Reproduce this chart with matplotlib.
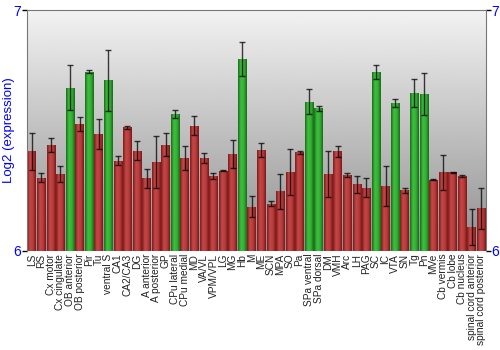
import numpy as np
import matplotlib.pyplot as plt
from matplotlib.colors import LinearSegmentedColormap

plt.rcParams['font.family'] = ['Liberation Sans', 'DejaVu Sans']

# regiony mozgu
regiony = ['LS', 'RS', 'Cx motor', 'Cx cingulate', 'OB anterior', 'OB posterior', 'Pir', 'Tu',
           'ventral S', 'CA1', 'CA2/CA3', 'DG', 'A anterior', 'A posterior', 'GP', 'CPu lateral',
           'CPu medial', 'MD', 'VA/VL', 'VPM/VPL', 'LG', 'MG', 'Hb', 'M', 'ME', 'SCN', 'MPA',
           'SO', 'Pa', 'SPa ventral', 'SPa dorsal', 'DM', 'VMH', 'Arc', 'LH', 'PAG', 'SC', 'IC',
           'VTA', 'SN', 'Tg', 'Pn', 'MVe', 'Cb vermis', 'Cb lobe', 'Cb nucleus',
           'spinal cord anterior', 'spinal cord posterior']

ekspresja = [6.414, 6.304, 6.441, 6.319, 6.678, 6.528, 6.745, 6.486,
             6.708, 6.375, 6.513, 6.417, 6.301, 6.369, 6.441, 6.569,
             6.387, 6.520, 6.385, 6.311, 6.333, 6.402, 6.797, 6.184, 6.420, 6.196, 6.247,
             6.327, 6.410, 6.619, 6.593, 6.318, 6.414, 6.317, 6.276, 6.263, 6.745, 6.270,
             6.613, 6.252, 6.656, 6.651, 6.296, 6.326, 6.326, 6.312,
             6.101, 6.177]

blad = [0.076, 0.019, 0.030, 0.034, 0.093, 0.028, 0.008, 0.061,
        0.128, 0.020, 0.006, 0.041, 0.040, 0.108, 0.047, 0.015,
        0.050, 0.039, 0.021, 0.012, 0.002, 0.058, 0.070, 0.043, 0.030, 0.010, 0.074,
        0.096, 0.007, 0.052, 0.010, 0.095, 0.023, 0.008, 0.035, 0.039, 0.029, 0.082,
        0.016, 0.010, 0.057, 0.087, 0.002, 0.073, 0.003, 0.005,
        0.075, 0.085]

# regiony wyroznione na zielono
zielone = ['OB anterior', 'Pir', 'ventral S', 'CPu lateral', 'Hb', 'SPa ventral',
           'SPa dorsal', 'SC', 'VTA', 'Tg', 'Pn']

fig = plt.figure(figsize=(5, 3.5), dpi=100)
ax = fig.add_axes([0.054, 0.283, 0.918, 0.688])

n = len(regiony)
x = np.arange(n)
ax.set_xlim(-0.5, n - 0.5)
ax.set_ylim(6, 7)

# tlo - gradient od jasnego do szarego
tlo = np.linspace(0.95, 0.56, 256).reshape(-1, 1)
ax.imshow(tlo, cmap='gray', vmin=0, vmax=1, aspect='auto',
          extent=(-0.5, n - 0.5, 6, 7), origin='upper', zorder=0)

czerwony = LinearSegmentedColormap.from_list('cz', ['#7e1a1a', '#c44848', '#b83c3c', '#7a1818'])
zielony = LinearSegmentedColormap.from_list('zi', ['#1a6e1a', '#3fbf3f', '#34b034', '#186a18'])
profil = np.linspace(0, 1, 64).reshape(1, -1)

szer = 0.9
slupki = ax.bar(x, np.array(ekspresja) - 6, bottom=6, width=szer, color='none',
                edgecolor='none', zorder=2)
for r, s in zip(regiony, slupki):
    cmap = zielony if r in zielone else czerwony
    x0 = s.get_x()
    y1 = s.get_y() + s.get_height()
    im = ax.imshow(profil, cmap=cmap, aspect='auto', extent=(x0, x0 + szer, 6, y1),
                   zorder=2, interpolation='bilinear')
    im.set_clip_path(s)

ax.errorbar(x, ekspresja, yerr=blad, fmt='none', ecolor='black', elinewidth=1,
            capsize=2.5, capthick=1, alpha=0.75, zorder=3)

ax.set_xticks(x)
ax.set_xticklabels(regiony, rotation=90, fontsize=7.3, color='#222222')
ax.tick_params(axis='x', length=0, pad=2)

ax.set_yticks([6, 7])
ax.set_yticklabels(['6', '7'], fontsize=10, color='blue')
ax.tick_params(axis='y', length=3.5, width=1, color='black', labelright=True, right=True, pad=0.5)
ax.set_ylabel('Log2 (expression)', color='blue', fontsize=9.5, labelpad=-1)

for sp in ['left', 'right', 'top']:
    ax.spines[sp].set_color('#777777')
ax.spines['bottom'].set_visible(False)

fig.savefig('out.png', dpi=100)
